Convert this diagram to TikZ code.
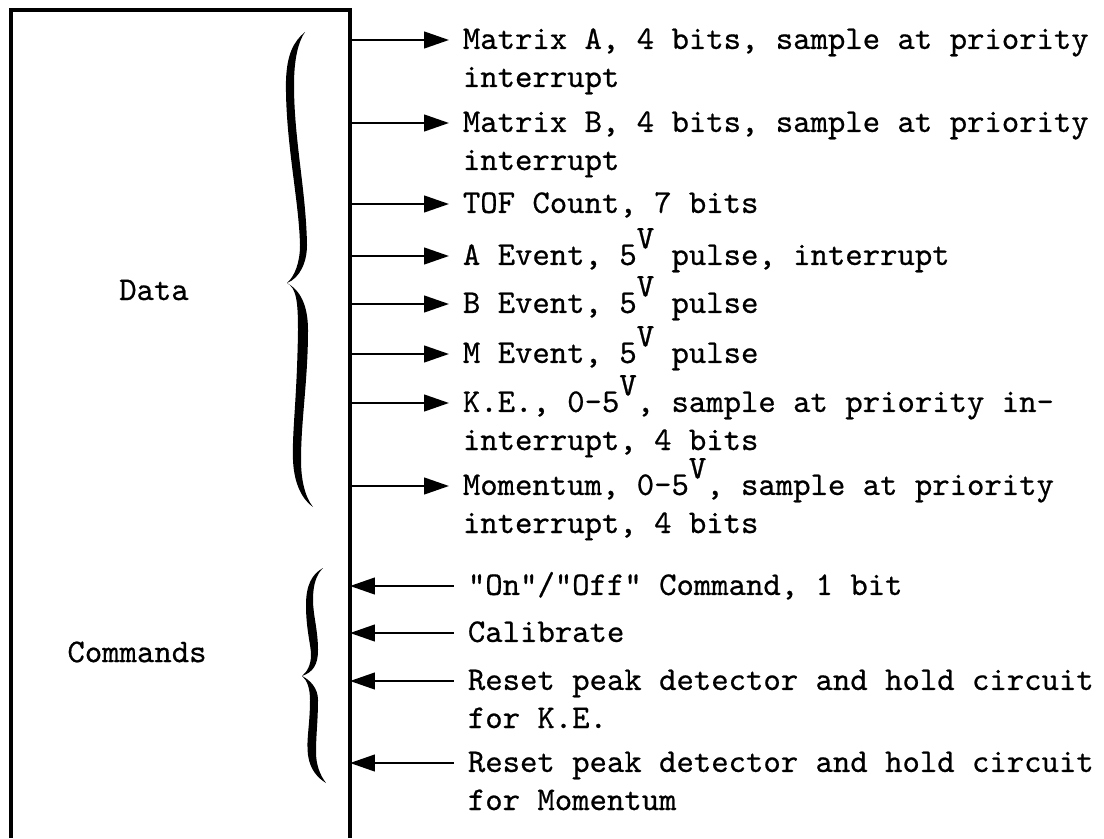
\documentclass[tikz,border=0pt]{standalone}
\usepackage{fontspec}
\setmonofont{Latin Modern Mono}[FakeBold=0.6]
\usepackage{tikz}
\usetikzlibrary{arrows.meta, positioning}
\newcommand{\volt}{\raisebox{0.5em}{V}}

\begin{document}
\begin{tikzpicture}[x=0.302pt, y=-0.302pt, font=\ttfamily,
        lbl/.style={inner xsep=4pt, inner ysep=0pt, text height=1.5ex, text depth=0.25ex, anchor=west},
        sal/.style={-{Triangle[length=7.5pt, width=5pt]}, line width=0.7pt},
        ent/.style={{Triangle[length=7.5pt, width=5pt]}-, line width=0.7pt}]
        \useasboundingbox (0,0) rectangle (1104,838);
        % caja abierta abajo
        \draw[line width=1pt] (11,838) -- (11,10) -- (350,10) -- (350,838);
        \coordinate (bx) at (350,10);
        \node (data) at (154,290) {Data};
        \node (cmd) at (137,652) {Commands};
        % salidas
        \node[lbl] (ma) at (449,40) {Matrix A, 4 bits, sample at priority};
        \node[lbl, below=11.5pt of ma.west, anchor=west] (ma2) {interrupt};
        \node[lbl] (mb) at (449,123) {Matrix B, 4 bits, sample at priority};
        \node[lbl, below=11.5pt of mb.west, anchor=west] (mb2) {interrupt};
        \node[lbl] (tof) at (449,204) {TOF Count, 7 bits};
        \node[lbl] (ae) at (449,256) {A Event, 5\volt{} pulse, interrupt};
        \node[lbl] (be) at (449,304) {B Event, 5\volt{} pulse};
        \node[lbl] (me) at (449,354) {M Event, 5\volt{} pulse};
        \node[lbl] (ke) at (449,403) {K.E., 0-5\volt, sample at priority in-};
        \node[lbl, below=11.5pt of ke.west, anchor=west] (ke2) {interrupt, 4 bits};
        \node[lbl] (mo) at (449,486) {Momentum, 0-5\volt, sample at priority};
        \node[lbl, below=11.5pt of mo.west, anchor=west] (mo2) {interrupt, 4 bits};
        % entradas
        \node[lbl] (on) at (454,586) {"On"/"Off" Command, 1 bit};
        \node[lbl] (cal) at (454,633) {Calibrate};
        \node[lbl] (rk) at (454,681) {Reset peak detector and hold circuit};
        \node[lbl, below=11.5pt of rk.west, anchor=west] (rk2) {for K.E.};
        \node[lbl] (rm) at (454,763) {Reset peak detector and hold circuit};
        \node[lbl, below=11.5pt of rm.west, anchor=west] (rm2) {for Momentum};
        \foreach \n in {ma,mb,tof,ae,be,me,ke,mo}
            \draw[sal] (bx |- \n.west) -- (\n.west);
        \foreach \n in {on,cal,rk,rm}
            \draw[ent] (bx |- \n.west) -- (\n.west);
        % llave de datos
        \fill (305,32) .. controls (293,42) and (287,55) .. (286,80)
            .. controls (285,140) and (299,200) .. (300,245)
            .. controls (300,262) and (295,276) .. (287,283)
            .. controls (300,278) and (307,262) .. (307,245)
            .. controls (306,190) and (294,140) .. (294,85)
            .. controls (294,60) and (298,42) .. (305,32) -- cycle;
        \fill (287,283) .. controls (296,288) and (298,300) .. (298,330)
            .. controls (297,400) and (292,430) .. (293,460)
            .. controls (294,485) and (303,500) .. (313,507)
            .. controls (305,497) and (301,480) .. (301,460)
            .. controls (301,420) and (308,380) .. (308,330)
            .. controls (308,305) and (300,290) .. (287,283) -- cycle;
        % llave de comandos
        \fill (323,568) .. controls (312,574) and (306,585) .. (306,605)
            .. controls (306,630) and (311,645) .. (311,655)
            .. controls (311,665) and (307,672) .. (302,676)
            .. controls (313,672) and (318,665) .. (318,650)
            .. controls (318,630) and (313,615) .. (313,600)
            .. controls (313,585) and (316,575) .. (323,568) -- cycle;
        \fill (302,676) .. controls (307,680) and (310,688) .. (310,700)
            .. controls (310,725) and (306,740) .. (308,755)
            .. controls (310,770) and (318,778) .. (326,783)
            .. controls (320,775) and (316,765) .. (316,752)
            .. controls (316,735) and (318,720) .. (318,700)
            .. controls (318,688) and (310,680) .. (302,676) -- cycle;
    \end{tikzpicture}
\end{document}
